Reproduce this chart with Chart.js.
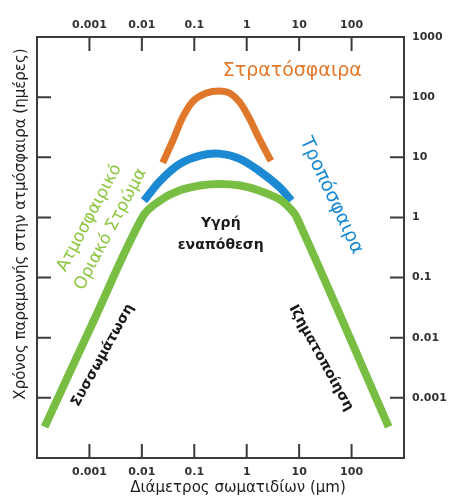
<!DOCTYPE html>
<html>
<head>
<meta charset="utf-8">
<script src="https://cdn.jsdelivr.net/npm/chart.js@4"></script>
<style>
  body { margin: 0; background: #fff; }
</style>
</head>
<body>
<canvas id="residenceChart" width="450" height="500"></canvas>
<script>
// tick values / labels (log axes, decades)
const xTickValues = [0.001, 0.01, 0.1, 1, 10, 100];
const xTickLabels = ['0.001', '0.01', '0.1', '1', '10', '100'];
const yTickValues = [0.001, 0.01, 0.1, 1, 10, 100, 1000];
const yTickLabels = ['0.001', '0.01', '0.1', '1', '10', '100', '1000'];

// particle diameter (um) -> residence time (days)
const boundaryDiam = [0.00014, 0.0012, 0.0105, 0.022, 0.052, 0.13, 0.3, 0.75, 1.7, 4.2, 6.5, 9, 510];
const boundaryDays = [0.00033, 0.019, 1.05, 1.9, 2.8, 3.4, 3.6, 3.4, 2.8, 2.0, 1.45, 1.0, 0.00033];

const troposphereDiam = [0.011, 0.022, 0.052, 0.13, 0.3, 0.72, 1.7, 4.2, 7.1];
const troposphereDays = [1.9, 4.0, 7.7, 10.7, 11.5, 9.5, 6.0, 3.2, 1.9];

const stratosphereDiam = [0.025, 0.039, 0.06, 0.093, 0.17, 0.3, 0.47, 0.72, 1.1, 1.7, 2.9];
const stratosphereDays = [8.1, 19, 46, 84, 117, 127, 117, 84, 46, 21, 8.7];

const GREEN = '#78be43';
const BLUE = '#1c8ad2';
const ORANGE = '#e0782c';
const AXIS = '#3c3c3c';
const FONT = "'DejaVu Sans', Verdana, sans-serif";

const toPoints = (xs, ys) => xs.map((x, i) => ({ x: x, y: ys[i] }));

// text placed in data units
const annotations = [
    { lines: ['Στρατόσφαιρα'], x: 7.4, y: 276, angle: 0, color: ORANGE, font: '19px ' + FONT },
    { lines: ['Τροπόσφαιρα'], x: 41, y: 2.3, angle: 65, color: BLUE, font: '19px ' + FONT },
    { lines: ['Ατμοσφαιρικό', 'Οριακό Στρώμα'], x: 0.0016, y: 0.79, angle: -62, color: '#8cc63f', font: '17px ' + FONT, gap: 24 },
    { lines: ['Υγρή', 'εναπόθεση'], x: 0.32, y: 0.52, angle: 0, color: '#1a1a1a', font: 'bold 14px ' + FONT, gap: 22 },
    { lines: ['Συσσωμάτωση'], x: 0.0018, y: 0.0051, angle: -61, color: '#1a1a1a', font: 'bold 14px ' + FONT },
    { lines: ['Ιζηματοποίηση'], x: 26, y: 0.0046, angle: 61, color: '#1a1a1a', font: 'bold 14px ' + FONT }
];

function fixedTicks(values) {
    return function(scale) {
        scale.ticks = values.map(v => ({ value: v }));
    };
}

function logScale(position, tickValues, tickLabels, showLabels, size) {
    const vertical = position === 'left' || position === 'right';
    return {
        type: 'logarithmic',
        position: position,
        min: 0.0001,
        max: 1000,
        afterBuildTicks: fixedTicks(tickValues),
        afterFit: function(scale) {
            if (vertical) scale.width = size; else scale.height = size;
        },
        grid: { display: false, drawTicks: false },
        border: { display: true, color: AXIS, width: 2 },
        ticks: {
            display: showLabels,
            autoSkip: false,
            maxRotation: 0,
            padding: vertical ? 8 : (position === 'top' ? 5 : 8),
            color: '#333',
            font: { family: FONT, size: 11, weight: 'bold' },
            callback: function(value, index) { return tickLabels[index]; }
        }
    };
}

// inward tick marks on all four sides
const inwardTicks = {
    id: 'inwardTicks',
    afterDraw(chart) {
        const { ctx, chartArea: a, scales } = chart;
        const len = 14;
        ctx.save();
        ctx.strokeStyle = AXIS;
        ctx.lineWidth = 2;
        ctx.beginPath();
        xTickValues.forEach(v => {
            const px = scales.x.getPixelForValue(v);
            ctx.moveTo(px, a.bottom); ctx.lineTo(px, a.bottom - len);
            ctx.moveTo(px, a.top); ctx.lineTo(px, a.top + len);
        });
        yTickValues.forEach(v => {
            const py = scales.y.getPixelForValue(v);
            ctx.moveTo(a.left, py); ctx.lineTo(a.left + len, py);
            ctx.moveTo(a.right, py); ctx.lineTo(a.right - len, py);
        });
        ctx.stroke();
        ctx.restore();
    }
};

const textLabels = {
    id: 'textLabels',
    afterDatasetsDraw(chart) {
        const { ctx, scales } = chart;
        ctx.save();
        ctx.textAlign = 'center';
        ctx.textBaseline = 'middle';
        annotations.forEach(t => {
            const px = scales.x.getPixelForValue(t.x);
            const py = scales.y.getPixelForValue(t.y);
            ctx.save();
            ctx.translate(px, py);
            ctx.rotate(t.angle * Math.PI / 180);
            ctx.font = t.font;
            ctx.fillStyle = t.color;
            const gap = t.gap || 0;
            t.lines.forEach((line, i) => {
                ctx.fillText(line, 0, (i - (t.lines.length - 1) / 2) * gap);
            });
            ctx.restore();
        });

        // axis titles
        ctx.fillStyle = '#1e1e1e';
        ctx.font = '15px ' + FONT;
        ctx.fillText('Διάμετρος σωματιδίων (μm)', 238, 488);
        ctx.translate(21, 224);
        ctx.rotate(-Math.PI / 2);
        ctx.font = '15px ' + FONT;
        ctx.fillText('Χρόνος παραμονής στην ατμόσφαιρα (ημέρες)', 0, 0);
        ctx.restore();
    }
};

function lineSet(label, xs, ys, color, width) {
    return {
        label: label,
        data: toPoints(xs, ys),
        borderColor: color,
        borderWidth: width,
        borderCapStyle: 'butt',
        borderJoinStyle: 'round',
        tension: 0.35,
        pointRadius: 0,
        fill: false,
        xAxisID: 'x',
        yAxisID: 'y'
    };
}

new Chart(document.getElementById('residenceChart').getContext('2d'), {
    type: 'line',
    data: {
        datasets: [
            lineSet('Ατμοσφαιρικό Οριακό Στρώμα', boundaryDiam, boundaryDays, GREEN, 8),
            lineSet('Τροπόσφαιρα', troposphereDiam, troposphereDays, BLUE, 8),
            lineSet('Στρατόσφαιρα', stratosphereDiam, stratosphereDays, ORANGE, 7)
        ]
    },
    options: {
        responsive: false,
        animation: false,
        layout: { padding: 0 },
        scales: {
            x: logScale('bottom', xTickValues, xTickLabels, true, 42),
            xTop: logScale('top', xTickValues, xTickLabels, true, 37),
            y: logScale('right', yTickValues, yTickLabels, true, 46),
            yLeft: logScale('left', yTickValues, yTickLabels, false, 37)
        },
        plugins: {
            legend: { display: false },
            tooltip: { enabled: false }
        }
    },
    plugins: [inwardTicks, textLabels]
});
</script>
</body>
</html>
